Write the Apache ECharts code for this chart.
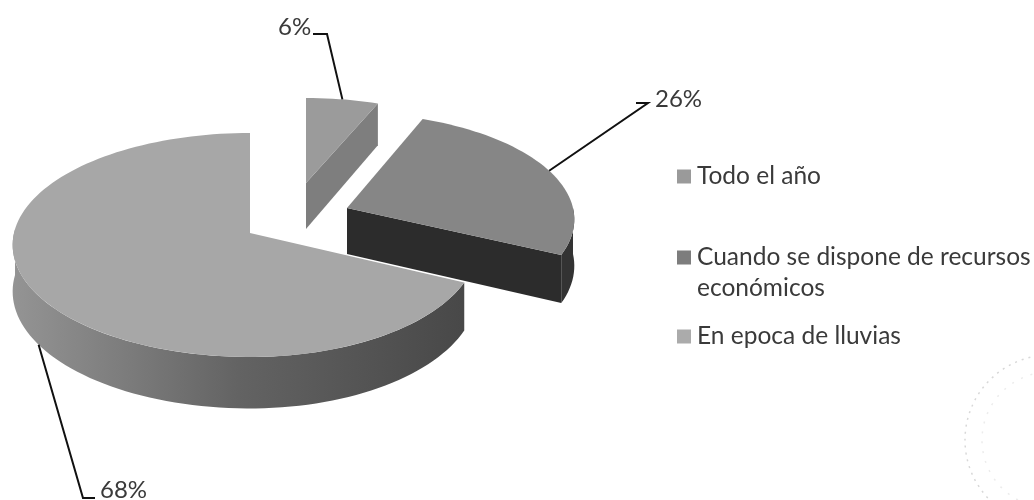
<!DOCTYPE html>
<html><head><meta charset="utf-8">
<style>html,body{margin:0;padding:0;background:#fff}#c{width:1034px;height:500px}</style>
<script src="https://cdn.jsdelivr.net/npm/echarts@6/dist/echarts.min.js"></script>
</head><body><div id="c"></div>
<script>
const categories = ['Todo el año', 'Cuando se dispone de recursos económicos', 'En epoca de lluvias'];
const values = [6, 26, 68];
const tickLabels = ['6%', '26%', '68%'];

// Layout and styling of the tilted pie (not data)
const FONT = 'Lato';
const TEXT = '#3a3a3a';
const RY = 110.7, K = 0.107, RL = 236, RR = 226, H = 46;
const sliceLayout = [
  {ax: 306, ay: 183, sx: 0.95, sy: 0.85, top: '#9b9b9b', wall: '#7e7e7e', cut: '#7e7e7e', from: null},
  {ax: 347, ay: 208, sx: 1.0, sy: 0.95, top: '#868686', wall: '#333333', cut: '#2c2c2c', from: 90},
  {ax: 250, ay: 233, sx: 1.0, sy: 1.0, top: '#a7a7a7', wall: null, cut: null, from: null}
];
const legendColors = ['#9a9a9a', '#7d7d7d', '#ababab'];
const leaderLayout = [
  {elbow: [327, 34], tail: [313, 34], text: [278, 27], wallEdge: false},
  {elbow: [648, 103], tail: [636, 103], text: [655, 99], wallEdge: false},
  {elbow: [83, 498], tail: [95, 498], text: [100, 490], wallEdge: true}
];

const total = values.reduce((a, b) => a + b, 0);
const starts = [];
values.reduce((acc, v, i) => { starts[i] = acc; return acc + v / total * 360; }, 0);

function pt(l, deg, drop) {
  const t = deg * Math.PI / 180, u = Math.sin(t), v = -Math.cos(t);
  const s = 1 / (1 - K * v);
  const rx = u < 0 ? RL : RR;
  return [l.ax + rx * u * s * l.sx, l.ay + RY * v * s * l.sy + (drop ? H * s : 0)];
}
function arc(l, a, b, drop) {
  const n = Math.max(2, Math.ceil(Math.abs(b - a) / 2));
  const r = [];
  for (let i = 0; i <= n; i++) r.push(pt(l, a + (b - a) * i / n, drop));
  return r;
}
function poly(points, fill) {
  return {type: 'polygon', shape: {points}, style: {fill, stroke: null}};
}
function sliceRenderer(i) {
  return function () {
    const l = sliceLayout[i];
    const a = starts[i], b = a + values[i] / total * 360;
    const apex = [l.ax, l.ay], apexB = [l.ax, l.ay + H];
    const children = [];
    if (i === 0) {
      children.push(poly([apex, pt(l, b, false), pt(l, b, true), apexB], l.cut));
    } else if (i === 1) {
      children.push(poly(arc(l, l.from, b, false).concat(arc(l, b, l.from, true)), l.wall));
      children.push(poly([apex, pt(l, b, false), pt(l, b, true), apexB], l.cut));
    } else {
      const grad = new echarts.graphic.LinearGradient(0, 0, 1, 0, [
        {offset: 0, color: '#949494'}, {offset: 0.25, color: '#7c7c7c'},
        {offset: 0.5, color: '#636363'}, {offset: 1, color: '#484848'}
      ]);
      children.push(poly(arc(l, a, 272, false).concat(arc(l, 272, a, true)), grad));
    }
    children.push(poly([apex].concat(arc(l, a, b, false)), l.top));
    const q = leaderLayout[i];
    const anchor = pt(l, a + (b - a) / 2, q.wallEdge);
    children.push({type: 'polyline', z2: 5, shape: {points: [anchor, q.elbow, q.tail]},
      style: {stroke: '#111', lineWidth: 2, fill: null}});
    children.push({type: 'text', z2: 6, style: {x: q.text[0], y: q.text[1], text: tickLabels[i],
      fill: TEXT, font: '24px ' + FONT, align: 'left', verticalAlign: 'middle'}});
    return {type: 'group', children};
  };
}

const chart = echarts.init(document.getElementById('c'), null, {renderer: 'canvas'});
const legendBase = {orient: 'vertical', padding: 0, itemWidth: 14, itemHeight: 14, itemGap: 0, selectedMode: false, icon: 'rect',
  textStyle: {fontFamily: FONT, fontSize: 24.5, color: TEXT, lineHeight: 31, padding: [0, 0, 0, 1]}};
chart.setOption({
  backgroundColor: '#fff',
  animation: false,
  legend: [
    Object.assign({}, legendBase, {left: 677, top: 161, data: [categories[0]], itemStyle: {color: legendColors[0]}}),
    Object.assign({}, legendBase, {left: 677, top: 242, itemHeight: 45, data: [categories[1]], icon: 'path://M0 0H14V14H0ZM0 45H14V45H0Z',
      itemStyle: {color: legendColors[1]}, formatter: n => n.replace(' económicos', '\neconómicos')}),
    Object.assign({}, legendBase, {left: 677, top: 321, data: [categories[2]], itemStyle: {color: legendColors[2]}})
  ],
  graphic: [
    {type: 'circle', shape: {cx: 1050, cy: 440, r: 85}, style: {fill: null, stroke: '#d8d8d8', lineWidth: 1.5, lineDash: [2, 5]}},
    {type: 'circle', shape: {cx: 1050, cy: 440, r: 68}, style: {fill: null, stroke: '#ececec', lineWidth: 1.5, lineDash: [2, 8]}}
  ],
  series: categories.map((name, i) => ({
    type: 'custom', name, coordinateSystem: 'none', silent: true, clip: false,
    itemStyle: {color: legendColors[i]},
    data: [values[i]], renderItem: sliceRenderer(i)
  }))
});
</script></body></html>
